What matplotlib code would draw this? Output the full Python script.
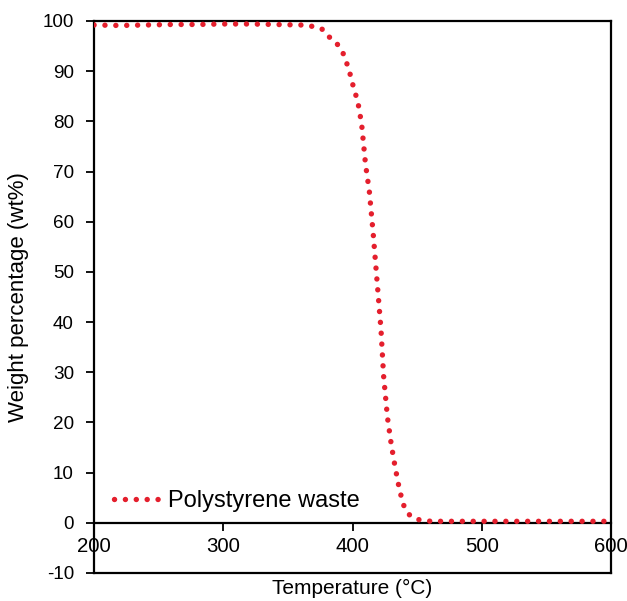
import matplotlib
matplotlib.use("Agg")
import matplotlib.pyplot as plt

plt.rcParams["font.family"] = ["Liberation Sans", "DejaVu Sans"]
plt.rcParams["axes.unicode_minus"] = False

# TGA curve
temperature = [200, 220, 240, 260, 280, 300, 320, 340, 360, 370, 377, 382,
               387, 392, 395, 398, 401, 404, 407, 410, 413, 416, 419, 422,
               424, 427, 430, 433, 436, 439, 442, 445, 449, 453, 457, 461,
               480, 500, 550, 600]
weight = [99.2, 99.1, 99.2, 99.3, 99.3, 99.4, 99.4, 99.3, 99.2, 98.9, 98.3,
          96.8, 95.8, 94.0, 92.0, 89.5, 86.5, 84.0, 79.5, 71.5, 66.0, 57.5,
          48.0, 38.5, 29.3, 21.0, 15.5, 11.0, 7.0, 3.8, 2.2, 1.3, 0.8, 0.5,
          0.4, 0.3, 0.3, 0.3, 0.3, 0.3]
series_label = "Polystyrene waste"
x_ticks = [200, 300, 400, 500, 600]
y_ticks = [-10, 0, 10, 20, 30, 40, 50, 60, 70, 80, 90, 100]

fig = plt.figure(figsize=(6.27, 6.01), dpi=100)
ax = fig.add_axes([0.150, 0.0466, 0.8246, 0.9185])

ax.plot(temperature, weight, color="#e41f2d", lw=3.9,
        linestyle=(0, (0.01, 2.0)), dash_capstyle="round",
        label=series_label, zorder=3)

ax.set_xlim(200, 600)
ax.set_ylim(-10, 100)
ax.set_xticks(x_ticks)
ax.set_yticks(y_ticks)

# horizontal axis crosses at zero, box closed at -10
ax.spines["bottom"].set_position(("data", 0))
for s in ("bottom", "left", "right", "top"):
    ax.spines[s].set_linewidth(1.6)
ax.axhline(-10, color="black", lw=1.6, clip_on=False)

ax.tick_params(axis="x", direction="out", length=5.5, width=1.3,
               labelsize=14.7, pad=5)
ax.tick_params(axis="y", direction="out", length=5.5, width=1.3,
               labelsize=13.6, pad=9)

ax.set_xlabel("Temperature (°C)", fontsize=15)
ax.xaxis.set_label_coords(0.5, -0.011)
ax.set_ylabel("Weight percentage (wt%)", fontsize=16)
ax.yaxis.set_label_coords(-0.125, 0.5)

ax.legend(loc="center left", bbox_to_anchor=(0.038, 0.13), frameon=False,
          fontsize=17, handlelength=2.0, handletextpad=0.3,
          borderaxespad=0, borderpad=0)

fig.savefig("out.png", dpi=100)
